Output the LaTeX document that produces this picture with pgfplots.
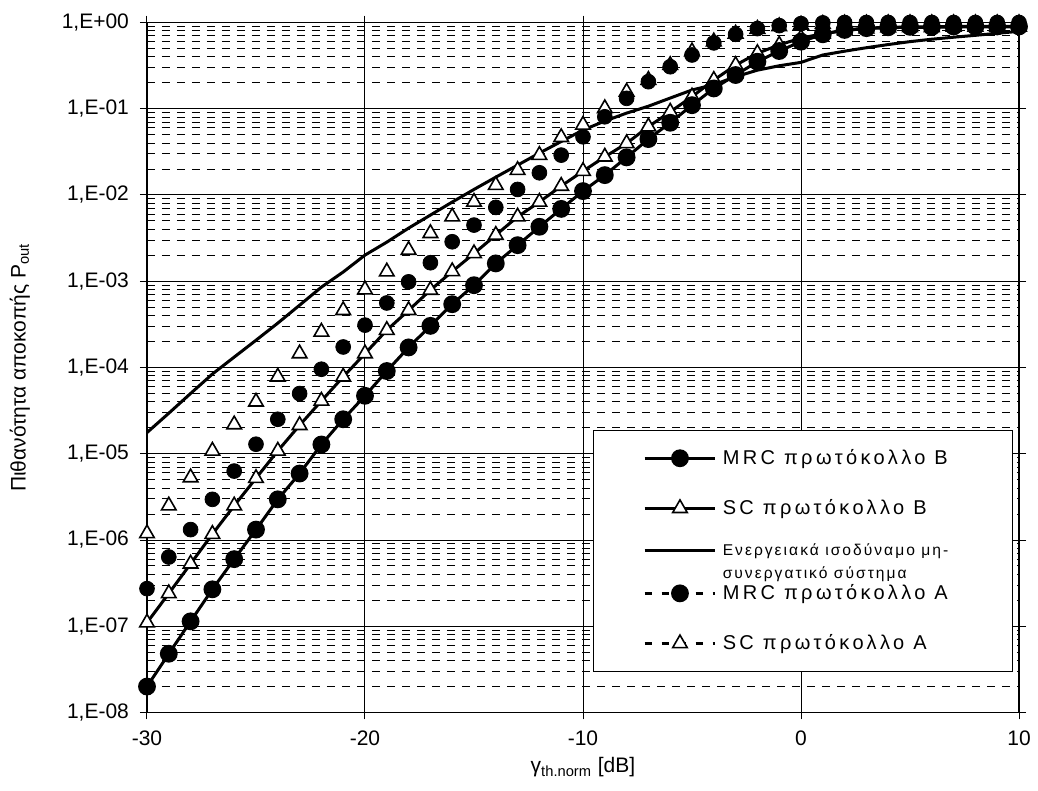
\documentclass[border=0pt]{standalone}
\usepackage{pgfplots}
\pgfplotsset{compat=1.18}
\usepackage{fontspec}
\setmainfont{Liberation Sans}
\newfontfamily\legfont[LetterSpace=17]{Liberation Sans}
\newfontfamily\legfontb[LetterSpace=13]{Liberation Sans}
\newcommand{\legbox}[1]{\makebox[119pt][l]{#1}}
\begin{document}
\begin{tikzpicture}
\useasboundingbox (-73.5pt,-39pt) rectangle (445.5pt,356.25pt);
\begin{axis}[
  at={(0,0)}, anchor=south west,
  scale only axis, width=436pt, height=345pt,
  ymode=log, xmin=-30, xmax=10, ymin=1e-8, ymax=1,
  clip=false,
  xtick={-30,-20,-10,0,10},
  xticklabels={-30,-20,-10,0,10},
  ytick={1e-8,1e-7,1e-6,1e-5,1e-4,1e-3,1e-2,1e-1,1},
  yticklabels={{1,E-08},{1,E-07},{1,E-06},{1,E-05},{1,E-04},{1,E-03},{1,E-02},{1,E-01},{1,E+00}},
  minor ytick={2e-8,3e-8,4e-8,5e-8,6e-8,7e-8,8e-8,9e-8,
               2e-7,3e-7,4e-7,5e-7,6e-7,7e-7,8e-7,9e-7,
               2e-6,3e-6,4e-6,5e-6,6e-6,7e-6,8e-6,9e-6,
               2e-5,3e-5,4e-5,5e-5,6e-5,7e-5,8e-5,9e-5,
               2e-4,3e-4,4e-4,5e-4,6e-4,7e-4,8e-4,9e-4,
               2e-3,3e-3,4e-3,5e-3,6e-3,7e-3,8e-3,9e-3,
               2e-2,3e-2,4e-2,5e-2,6e-2,7e-2,8e-2,9e-2,
               2e-1,3e-1,4e-1,5e-1,6e-1,7e-1,8e-1,9e-1},
  minor xtick={},
  grid=both,
  major grid style={black, line width=0.5pt},
  minor grid style={black, line width=0.5pt, dash pattern=on 4pt off 3.5pt},
  axis line style={black, line width=0.6pt},
  tick align=outside,
  major tick length=3.5pt, minor tick length=0pt,
  tick style={black, line width=0.5pt},
  ticklabel style={font=\fontsize{10.5}{12}\selectfont},
  yticklabel style={xshift=-2pt},
  xticklabel style={yshift=-2pt},
  xlabel={γ\textsubscript{th.norm} [dB]},
  ylabel={Πιθανότητα αποκοπής P\textsubscript{out}},
  label style={font=\fontsize{10.5}{12}\selectfont},
  xlabel style={at={(axis description cs:0.5,0)}, anchor=north, yshift=-19pt},
  ylabel style={at={(axis description cs:0,0.5)}, anchor=south, yshift=55pt},
  legend cell align=left,
  legend style={at={(rel axis cs:0.511,0.410)}, anchor=north west,
     draw=black, line width=0.6pt, fill=white,
     font=\legfont\fontsize{10}{11.5}\selectfont,
     inner xsep=25pt, inner ysep=8.5pt,
     row sep=14pt, column sep=2pt,
     nodes={inner sep=1pt}},
  legend image code/.code={\draw[mark repeat=2,mark phase=2,#1] plot coordinates {(0cm,0cm) (0.62cm,0cm) (1.24cm,0cm)};},
]
% legend entries (drawing order differs: circles over triangles)
\addlegendimage{black, line width=1.5pt, mark=*, mark size=3.7pt, mark options={solid}}
\addlegendentry{\legbox{MRC πρωτόκολλο B}}
\addlegendimage{black, line width=1.5pt, mark=triangle*, mark size=4.2pt, mark options={solid, fill=white, line width=0.8pt}}
\addlegendentry{\legbox{SC πρωτόκολλο B}}
\addlegendimage{black, line width=1.5pt, no marks}
\addlegendentry{\legbox{\raisebox{-0.6ex}{\smash{\legfontb\fontsize{7.8}{11.5}\selectfont\begin{tabular}[t]{@{}l@{}}Ενεργειακά ισοδύναμο μη-\\συνεργατικό σύστημα\end{tabular}}}}}
\addlegendimage{black, line width=1.5pt, dash pattern=on 3.5pt off 5pt, mark=*, mark size=3.7pt, mark options={solid}}
\addlegendentry{\legbox{MRC πρωτόκολλο A}}
\addlegendimage{black, line width=1.5pt, dash pattern=on 3.5pt off 5pt, mark=triangle*, mark size=4.2pt, mark options={solid, fill=white, line width=0.8pt}}
\addlegendentry{\legbox{SC πρωτόκολλο A}}
% energy-equivalent non-cooperative
\addplot[black, line width=1.5pt, no marks, forget plot] coordinates {
(-30,1.76e-5) (-29,2.95e-5) (-28,5.0e-5) (-27,8.4e-5) (-26,1.32e-4) (-25,2.07e-4)
(-24,3.27e-4) (-23,5.28e-4) (-22,8.55e-4) (-21,1.28e-3) (-20,2.01e-3) (-19,2.84e-3)
(-18,4.13e-3) (-17,5.85e-3) (-16,8.28e-3) (-15,1.16e-2) (-14,1.61e-2) (-13,2.22e-2)
(-12,3.06e-2) (-11,4.17e-2) (-10,5.66e-2) (-9,7.2e-2) (-8,8.9e-2) (-7,0.107)
(-6,0.133) (-5,0.165) (-4,0.19) (-3,0.235) (-2,0.28) (-1,0.315) (0,0.345)
(1,0.42) (2,0.465) (3,0.51) (4,0.555) (5,0.6) (6,0.64) (7,0.675) (8,0.71) (9,0.75) (10,0.79)};
% SC protocol B
\addplot[black, line width=1.5pt, mark=triangle*, mark size=4.2pt, mark options={solid, fill=white, line width=0.8pt}, forget plot] coordinates {
(-30,1.1e-7) (-29,2.4e-7) (-28,5.3e-7) (-27,1.17e-6) (-26,2.5e-6) (-25,5.2e-6)
(-24,1.08e-5) (-23,2.14e-5) (-22,4.1e-5) (-21,7.8e-5) (-20,1.45e-4) (-19,2.71e-4)
(-18,4.6e-4) (-17,7.9e-4) (-16,1.3e-3) (-15,2.1e-3) (-14,3.43e-3) (-13,5.6e-3)
(-12,8.3e-3) (-11,1.27e-2) (-10,1.89e-2) (-9,2.77e-2) (-8,3.97e-2) (-7,6.2e-2)
(-6,9.2e-2) (-5,0.138) (-4,0.215) (-3,0.32) (-2,0.44) (-1,0.55) (0,0.66)
(1,0.74) (2,0.81) (3,0.85) (4,0.87) (5,0.88) (6,0.88) (7,0.89) (8,0.89) (9,0.89) (10,0.89)};
% MRC protocol B
\addplot[black, line width=1.5pt, mark=*, mark size=3.7pt, mark options={solid}, forget plot] coordinates {
(-30,2.0e-8) (-29,4.8e-8) (-28,1.14e-7) (-27,2.68e-7) (-26,6.0e-7) (-25,1.32e-6)
(-24,2.96e-6) (-23,5.9e-6) (-22,1.28e-5) (-21,2.51e-5) (-20,4.7e-5) (-19,9.1e-5)
(-18,1.71e-4) (-17,3.04e-4) (-16,5.42e-4) (-15,9.0e-4) (-14,1.61e-3) (-13,2.62e-3)
(-12,4.28e-3) (-11,6.9e-3) (-10,1.11e-2) (-9,1.70e-2) (-8,2.73e-2) (-7,4.45e-2)
(-6,6.88e-2) (-5,0.11) (-4,0.172) (-3,0.246) (-2,0.351) (-1,0.467) (0,0.60)
(1,0.73) (2,0.82) (3,0.86) (4,0.88) (5,0.89) (6,0.89) (7,0.9) (8,0.9) (9,0.9) (10,0.9)};
% SC protocol A
\addplot[black, only marks, mark=triangle*, mark size=4.2pt, mark options={fill=white, line width=0.8pt}, forget plot] coordinates {
(-30,1.19e-6) (-29,2.5e-6) (-28,5.3e-6) (-27,1.08e-5) (-26,2.18e-5) (-25,4.0e-5)
(-24,7.8e-5) (-23,1.45e-4) (-22,2.59e-4) (-21,4.6e-4) (-20,8.0e-4) (-19,1.29e-3)
(-18,2.3e-3) (-17,3.6e-3) (-16,5.6e-3) (-15,8.3e-3) (-14,1.3e-2) (-13,1.94e-2)
(-12,2.9e-2) (-11,4.66e-2) (-10,6.5e-2) (-9,0.101) (-8,0.157) (-7,0.215)
(-6,0.32) (-5,0.46) (-4,0.6) (-3,0.74) (-2,0.84) (-1,0.9) (0,0.94)
(1,0.96) (2,0.97) (3,0.97) (4,0.975) (5,0.975) (6,0.975) (7,0.975) (8,0.975) (9,0.975) (10,0.975)};
% MRC protocol A
\addplot[black, only marks, mark=*, mark size=3.7pt, forget plot] coordinates {
(-30,2.73e-7) (-29,6.35e-7) (-28,1.32e-6) (-27,2.96e-6) (-26,6.3e-6) (-25,1.29e-5)
(-24,2.51e-5) (-23,4.99e-5) (-22,9.55e-5) (-21,1.73e-4) (-20,3.1e-4) (-19,5.6e-4)
(-18,9.84e-4) (-17,1.64e-3) (-16,2.87e-3) (-15,4.48e-3) (-14,7.18e-3) (-13,1.16e-2)
(-12,1.81e-2) (-11,2.9e-2) (-10,4.73e-2) (-9,8.07e-2) (-8,0.132) (-7,0.206)
(-6,0.307) (-5,0.42) (-4,0.58) (-3,0.73) (-2,0.85) (-1,0.92) (0,0.97)
(1,0.99) (2,1.0) (3,1.0) (4,1.0) (5,1.0) (6,1.0) (7,1.0) (8,1.0) (9,1.0) (10,1.0)};
\end{axis}
\end{tikzpicture}
\end{document}
